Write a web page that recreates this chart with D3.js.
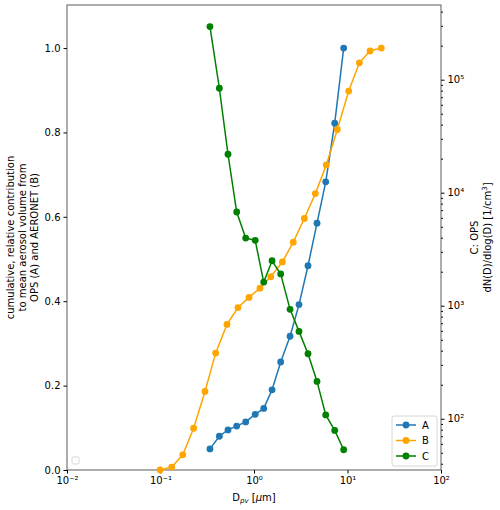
<!DOCTYPE html>
<html><head><meta charset="utf-8">
<script src="https://cdn.jsdelivr.net/npm/d3@7"></script>
<style>body{margin:0;background:#fff}text{font-family:"DejaVu Sans",sans-serif}</style>
</head><body><svg width="500" height="510"></svg>
<script>
var dA = [0.338,0.426,0.527,0.653,0.815,1.03,1.27,1.56,1.93,2.43,3.03,3.78,4.72,5.85,7.3,9.1];
var valA = [0.050,0.080,0.095,0.104,0.114,0.132,0.146,0.190,0.256,0.317,0.392,0.484,0.585,0.683,0.822,1.0];
var dB = [0.099,0.132,0.173,0.226,0.299,0.389,0.514,0.674,0.885,1.16,1.51,2.01,2.63,3.45,4.53,5.93,7.78,10.3,13.4,17.4,23.0];
var valB = [0,0.007,0.036,0.099,0.186,0.277,0.345,0.385,0.409,0.431,0.458,0.493,0.540,0.596,0.655,0.723,0.807,0.898,0.965,0.993,1.0];
var dC = dA;
var valC = [2.95e5,8.4e4,2.19e4,6.75e3,3.97e3,3.79e3,1.62e3,2.5e3,1.91e3,929,593,376,214,108,78.9,53.2];
var xTicks = [-2,-1,0,1,2];
var yTicks = [0,0.2,0.4,0.6,0.8,1.0];
var rTicks = [2,3,4,5];

var svg = d3.select("svg");
var L = 67, R = 441, T = 5, B = 470;
var x = d3.scaleLog().domain([0.01,100]).range([L,R]);
var y = d3.scaleLinear().domain([0,1.102]).range([B,T]);
var yr = d3.scaleLog().domain([35.2,4.58e5]).range([B,T]);
var sup = {"-":"⁻","0":"⁰","1":"¹","2":"²","3":"³","4":"⁴","5":"⁵"};
function pw(e){ return "10" + String(e).split("").map(function(c){return sup[c];}).join(""); }

svg.append("g").attr("transform","translate(0,"+B+")")
  .call(d3.axisBottom(x).tickValues(xTicks.map(function(e){return Math.pow(10,e);}))
    .tickFormat(function(d){return pw(Math.round(Math.log10(d)));}).tickSize(3.5).tickPadding(3))
  .call(function(g){g.select(".domain").remove();g.selectAll("text").attr("font-size",10);});
svg.append("g").attr("transform","translate("+L+",0)")
  .call(d3.axisLeft(y).tickValues(yTicks).tickFormat(d3.format(".1f")).tickSize(3.5).tickPadding(3))
  .call(function(g){g.select(".domain").remove();g.selectAll("text").attr("font-size",10);});
var minors = [];
for (var e = 1; e <= 5; e++) for (var k = 2; k <= 9; k++) { var v = k*Math.pow(10,e); if (v > 35.2 && v < 4.58e5) minors.push(v); }
svg.append("g").attr("transform","translate("+R+",0)")
  .call(d3.axisRight(yr).tickValues(minors).tickFormat("").tickSize(2))
  .call(function(g){g.select(".domain").remove();});
svg.append("g").attr("transform","translate("+R+",0)")
  .call(d3.axisRight(yr).tickValues(rTicks.map(function(e){return Math.pow(10,e);}))
    .tickFormat(function(d){return pw(Math.round(Math.log10(d)));}).tickSize(3.5).tickPadding(3))
  .call(function(g){g.select(".domain").remove();g.selectAll("text").attr("font-size",10);});
svg.append("rect").attr("x",L).attr("y",T).attr("width",R-L).attr("height",B-T)
  .attr("fill","none").attr("stroke","#333").attr("stroke-width",0.8);

function series(ds, vs, ys, col) {
  var pts = ds.map(function(d,i){return [x(d), ys(vs[i])];});
  svg.append("path").attr("d", d3.line()(pts)).attr("fill","none").attr("stroke",col).attr("stroke-width",1.5);
  svg.append("g").selectAll("circle").data(pts).enter().append("circle")
    .attr("cx",function(p){return p[0];}).attr("cy",function(p){return p[1];}).attr("r",3.4).attr("fill",col);
}
series(dA, valA, y, "#1f77b4");
series(dB, valB, y, "orange");
series(dC, valC, yr, "green");

svg.append("text").attr("x",(L+R)/2).attr("y",501).attr("text-anchor","middle").attr("font-size",10)
  .html('D<tspan font-size="7" dy="2" font-style="italic">pv</tspan><tspan dy="-2"> [</tspan><tspan font-style="italic">μ</tspan>m]');
var lt = svg.append("text").attr("transform","translate(14,"+((T+B)/2)+") rotate(-90)").attr("text-anchor","middle").attr("font-size",10);
["cumulative, relative contribution","to mean aerosol volume from","OPS (A) and AERONET (B)"].forEach(function(s,i){
  lt.append("tspan").attr("x",0).attr("dy",i?12:0).text(s);
});
var rt = svg.append("text").attr("transform","translate(478,"+((T+B)/2)+") rotate(-90)").attr("text-anchor","middle").attr("font-size",10);
rt.append("tspan").attr("x",0).text("C: OPS");
rt.append("tspan").attr("x",0).attr("dy",13).html('dN(D)/dlog(D) [1/cm<tspan font-size="7" dy="-4">3</tspan><tspan dy="4">]</tspan>');

// empty legend box
svg.append("rect").attr("x",72).attr("y",457).attr("width",7).attr("height",7).attr("rx",1.5)
  .attr("fill","#fff").attr("stroke","#ccc").attr("stroke-width",0.8);
var lg = svg.append("g").attr("transform","translate(392,416)");
lg.append("rect").attr("width",45).attr("height",50).attr("rx",2).attr("fill","#fff").attr("stroke","#ccc").attr("stroke-width",0.8);
[["A","#1f77b4"],["B","orange"],["C","green"]].forEach(function(s,i){
  var yy = 9 + i*15.5;
  lg.append("line").attr("x1",4).attr("x2",24).attr("y1",yy).attr("y2",yy).attr("stroke",s[1]).attr("stroke-width",1.5);
  lg.append("circle").attr("cx",14).attr("cy",yy).attr("r",3.4).attr("fill",s[1]);
  lg.append("text").attr("x",30).attr("y",yy+3.5).attr("font-size",10).text(s[0]);
});
</script></body></html>
